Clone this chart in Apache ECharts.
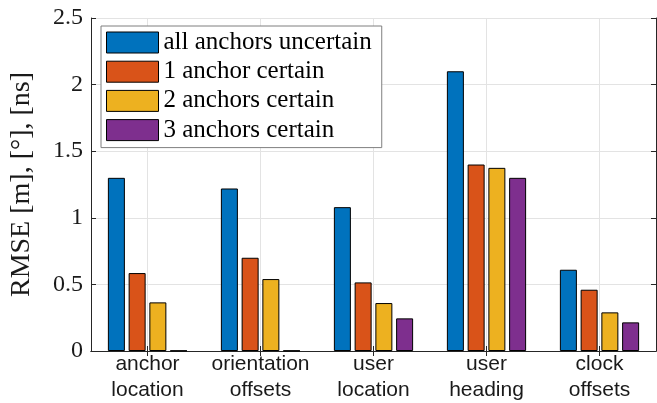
<!DOCTYPE html>
<html>
<head>
<meta charset="utf-8">
<script src="https://cdn.jsdelivr.net/npm/echarts@6/dist/echarts.min.js"></script>
<style>
  html, body { margin: 0; padding: 0; background: #fff; }
  #chart { width: 657px; height: 403px; }
</style>
</head>
<body>
<div id="chart"></div>
<script>
// data
var categories = ['anchor\nlocation', 'orientation\noffsets', 'user\nlocation', 'user\nheading', 'clock\noffsets'];
var seriesNames = ['all anchors uncertain', '1 anchor certain', '2 anchors certain', '3 anchors certain'];
var allUncertain = [1.30, 1.22, 1.08, 2.10, 0.61];
var oneCertain = [0.585, 0.70, 0.515, 1.40, 0.46];
var twoCertain = [0.365, 0.54, 0.36, 1.375, 0.29];
var threeCertain = [0.003, 0.003, 0.245, 1.30, 0.215];
var yMin = 0, yMax = 2.5, yStep = 0.5;

var colors = ['#0072BD', '#D95319', '#EDB120', '#7E2F8E'];
var values = [allUncertain, oneCertain, twoCertain, threeCertain];

var myChart = echarts.init(document.getElementById('chart'), null, { renderer: 'canvas' });

var axisColor = '#262626';
var gridColor = '#e3e3e3';

var series = values.map(function (v, i) {
    return {
        name: seriesNames[i],
        type: 'bar',
        xAxisIndex: 0,
        yAxisIndex: 0,
        data: v,
        barWidth: 17,
        barGap: '22%',
        itemStyle: { color: colors[i], borderColor: '#000', borderWidth: 1 },
        emphasis: { disabled: true }
    };
});

myChart.setOption({
    animation: false,
    color: colors,
    grid: { left: 90, right: 1, top: 18, bottom: 52 },
    legend: {
        data: seriesNames,
        orient: 'vertical',
        left: 101,
        top: 26,
        padding: [4, 10, 5, 5],
        itemWidth: 52,
        itemHeight: 21,
        itemGap: 4.2,
        icon: 'rect',
        backgroundColor: '#fff',
        borderColor: '#7f7f7f',
        borderWidth: 1,
        itemStyle: { borderWidth: 1, borderColor: '#000' },
        textStyle: { fontFamily: 'Liberation Serif', fontSize: 25, color: '#000' }
    },
    xAxis: [
        {
            type: 'category',
            data: categories,
            position: 'bottom',
            axisLine: { show: true, lineStyle: { color: axisColor, width: 1 } },
            axisTick: { show: true, inside: true, alignWithLabel: true, length: 5, lineStyle: { color: axisColor } },
            splitLine: { show: true, alignWithLabel: true, lineStyle: { color: gridColor, width: 1 } },
            axisLabel: { interval: 0, fontFamily: 'Liberation Sans', fontSize: 21, color: '#1a1a1a', lineHeight: 26, margin: 0 }
        },
        {
            type: 'category',
            data: categories,
            position: 'top',
            axisLine: { show: true, lineStyle: { color: axisColor, width: 1 } },
            axisTick: { show: true, inside: true, alignWithLabel: true, length: 5, lineStyle: { color: axisColor } },
            splitLine: { show: false },
            axisLabel: { show: false }
        }
    ],
    yAxis: [
        {
            type: 'value',
            min: yMin,
            max: yMax,
            interval: yStep,
            name: 'RMSE [m], [°], [ns]',
            nameLocation: 'middle',
            nameGap: 55,
            nameTextStyle: { fontFamily: 'Liberation Serif', fontSize: 28, color: '#1a1a1a' },
            axisLine: { show: true, lineStyle: { color: axisColor, width: 1 } },
            axisTick: { show: true, inside: true, length: 5, lineStyle: { color: axisColor } },
            splitLine: { show: true, lineStyle: { color: gridColor, width: 1 } },
            axisLabel: { fontFamily: 'Liberation Serif', fontSize: 24, color: '#1a1a1a', margin: 8 }
        },
        {
            type: 'value',
            min: yMin,
            max: yMax,
            interval: yStep,
            position: 'right',
            axisLine: { show: true, lineStyle: { color: axisColor, width: 1 } },
            axisTick: { show: true, inside: true, length: 5, lineStyle: { color: axisColor } },
            splitLine: { show: false },
            axisLabel: { show: false }
        }
    ],
    series: series
});

window.onresize = function () {
    myChart.resize();
};
</script>
</body>
</html>
